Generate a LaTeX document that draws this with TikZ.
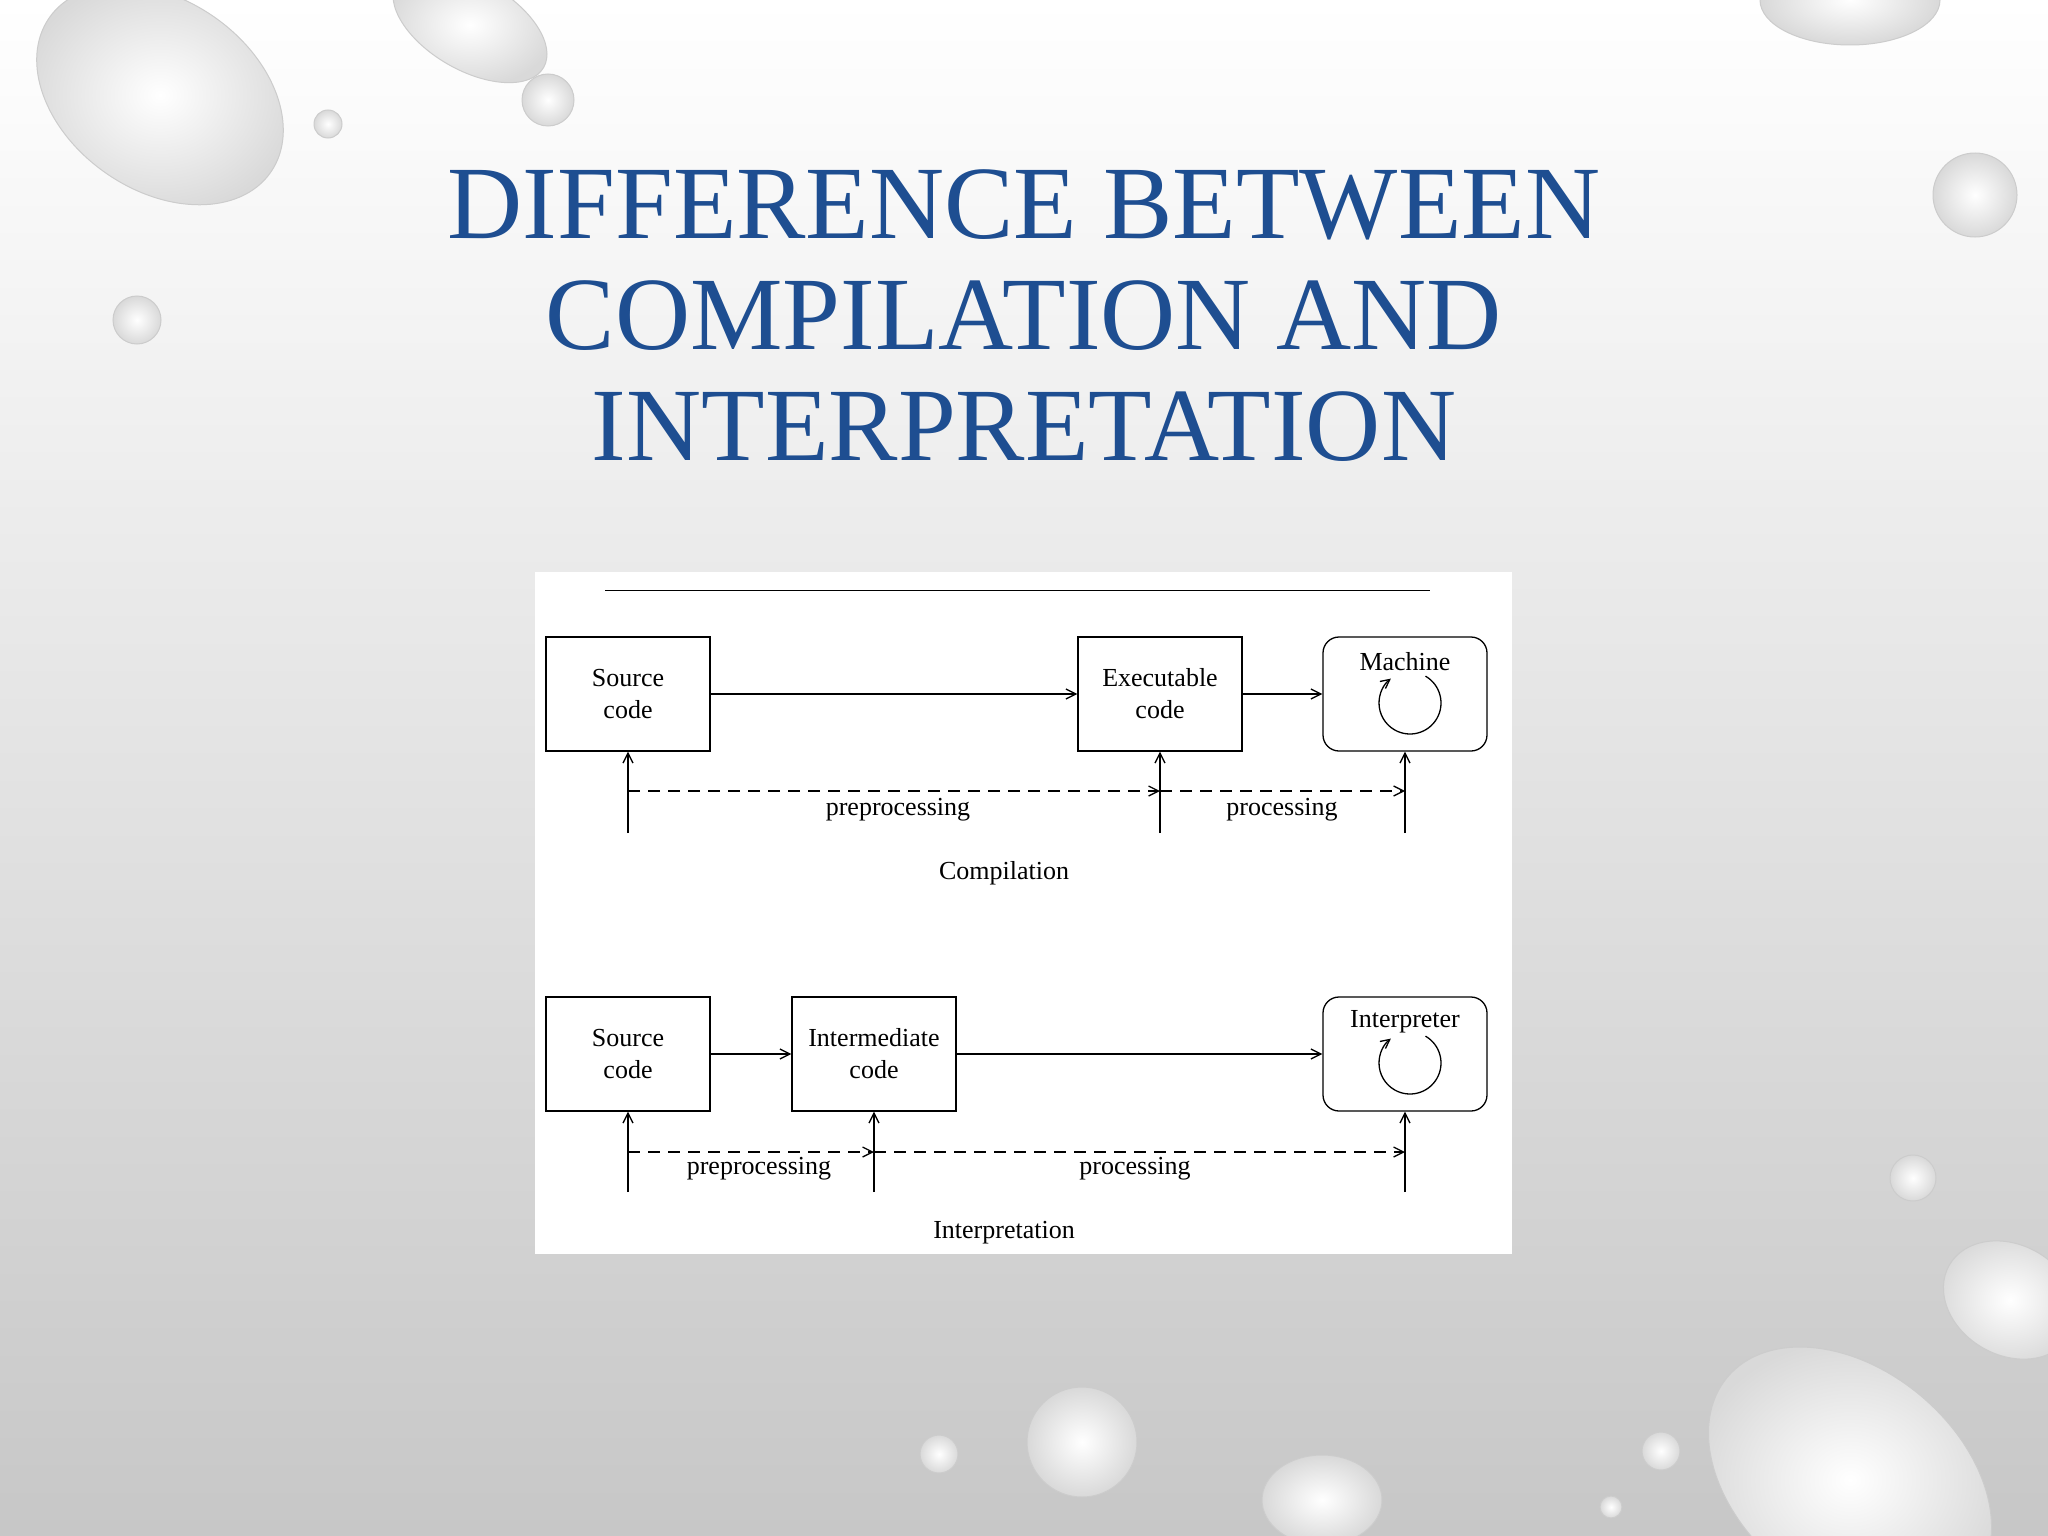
\documentclass[tikz,border=0pt]{standalone}
\usepackage{fontspec}
\setmainfont{Liberation Serif}
\usetikzlibrary{arrows.meta}
\definecolor{ttl}{RGB}{30,78,145}
\begin{document}
\begin{tikzpicture}[x=1pt,y=-1pt,
  box/.style={draw,line width=1.3pt,minimum width=164pt,minimum height=114pt,align=center,font=\fontsize{26}{32}\selectfont,inner sep=0pt},
  lbl/.style={font=\fontsize{26}{32}\selectfont,inner sep=0pt},
  arr/.style={line width=1.3pt,-{Straight Barb[length=10pt,width=10pt]}},
  dsh/.style={arr,dash pattern=on 12pt off 8pt},
  drop/.style={inner color=white,outer color=gray!30,draw=gray!40,line width=1pt}]
\useasboundingbox (0,0) rectangle (2048,1536);
\shade[top color=white,bottom color=black!22] (0,0) rectangle (2048,1536);
% water drops
\shade[drop,rotate around={-35:(160,95)}] (160,95) ellipse (135 and 95);
\shade[drop,rotate around={-30:(470,25)}] (470,25) ellipse (85 and 45);
\shade[drop] (548,100) circle (26);
\shade[drop] (328,124) circle (14);
\shade[drop] (137,320) circle (24);
\shade[drop] (1975,195) circle (42);
\shade[drop] (1850,0) ellipse (90 and 45);
\shade[drop] (1913,1178) circle (23);
\shade[drop,rotate around={-30:(2010,1300)}] (2010,1300) ellipse (70 and 55);
\shade[drop,rotate around={-40:(1850,1480)}] (1850,1480) ellipse (160 and 110);
\shade[drop] (1082,1442) circle (55);
\shade[drop] (939,1454) circle (19);
\shade[drop] (1322,1500) ellipse (60 and 45);
\shade[drop] (1661,1451) circle (19);
\shade[drop] (1611,1507) circle (11);
% title
\node[text=ttl,font=\fontsize{104}{111}\selectfont,align=center] (title) at (1024,316) {DIFFERENCE BETWEEN\\COMPILATION AND\\INTERPRETATION};
% panel
\fill[white] (535,572) rectangle (1512,1254);
\coordinate (l1) at (605,590); \coordinate (l2) at (1430,590);
\draw[line width=1pt] (l1) -- (l2);
% compilation
\node[box] (src1) at (628,694) {Source\\code};
\node[box] (exe) at (1160,694) {Executable\\code};
\node[box,rounded corners=16pt] (mac) at (1405,694) {};
\node[lbl] (macl) at (1405,662) {Machine};
\draw[arr] (src1) -- (exe);
\draw[arr] (exe) -- (mac);
\draw[line width=1.3pt,-{Straight Barb[length=9pt,width=9pt]}] (1410,703) ++(-60:31) arc[start angle=-60,end angle=232,radius=31];
\coordinate (b1) at (628,833); \coordinate (b2) at (1160,833); \coordinate (b3) at (1405,833);
\draw[arr] (b1) -- (src1.south);
\draw[arr] (b2) -- (exe.south);
\draw[arr] (b3) -- (mac.south);
\coordinate (d1) at (628,791); \coordinate (d2) at (1160,791); \coordinate (d3) at (1405,791);
\draw[dsh] (d1) -- (d2);
\draw[dsh] (d2) -- (d3);
\node[lbl] (pp1) at (898,810) {preprocessing};
\node[lbl] (p1) at (1282,810) {processing};
\node[lbl] (comp) at (1004,873) {Compilation};
% interpretation
\node[box] (src2) at (628,1054) {Source\\code};
\node[box] (imd) at (874,1054) {Intermediate\\code};
\node[box,rounded corners=16pt] (int) at (1405,1054) {};
\node[lbl] (intl) at (1405,1022) {Interpreter};
\draw[arr] (src2) -- (imd);
\draw[arr] (imd) -- (int);
\draw[line width=1.3pt,-{Straight Barb[length=9pt,width=9pt]}] (1410,1063) ++(-60:31) arc[start angle=-60,end angle=232,radius=31];
\coordinate (c1) at (628,1192); \coordinate (c2) at (874,1192); \coordinate (c3) at (1405,1192);
\draw[arr] (c1) -- (src2.south);
\draw[arr] (c2) -- (imd.south);
\draw[arr] (c3) -- (int.south);
\coordinate (e1) at (628,1152); \coordinate (e2) at (874,1152); \coordinate (e3) at (1405,1152);
\draw[dsh] (e1) -- (e2);
\draw[dsh] (e2) -- (e3);
\node[lbl] (pp2) at (759,1169) {preprocessing};
\node[lbl] (p2) at (1135,1169) {processing};
\node[lbl] (interp) at (1004,1233) {Interpretation};
\end{tikzpicture}
\end{document}
